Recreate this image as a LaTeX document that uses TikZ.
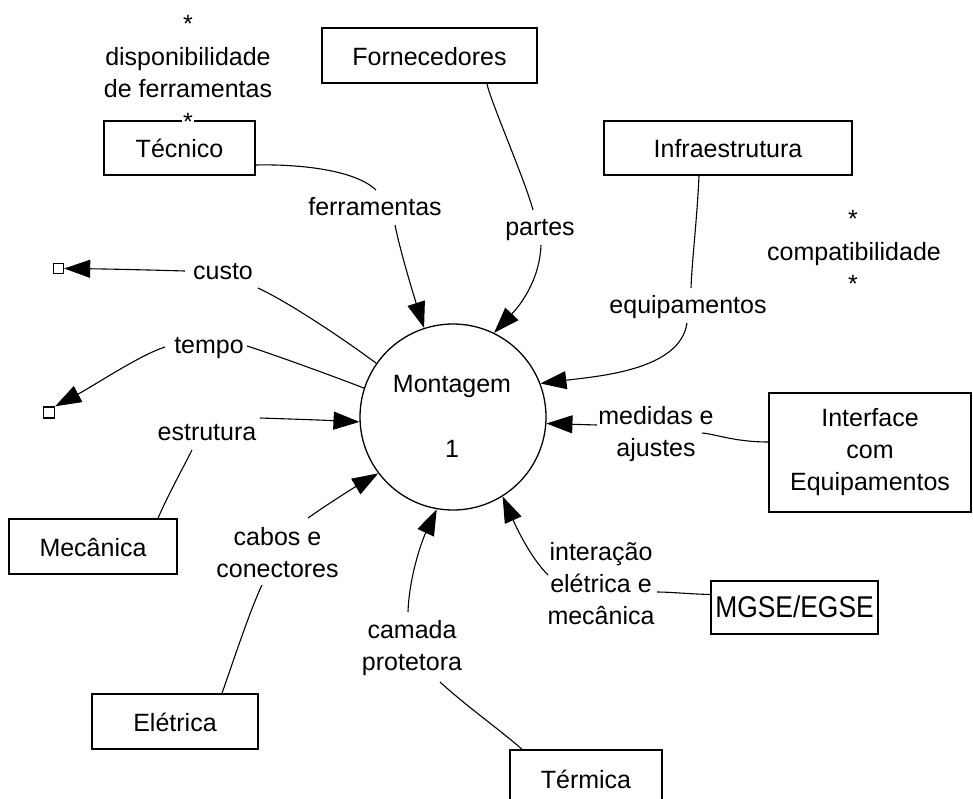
\documentclass[tikz,border=0pt]{standalone}
\usepackage{fontspec}
\setmainfont{Liberation Sans}
\usetikzlibrary{arrows.meta,calc}
\begin{document}
\begin{tikzpicture}[x=1pt,y=-1pt,
  txt/.style={font=\fontsize{25}{32}\selectfont, align=center, inner sep=0pt},
  boxbase/.style={draw, line width=1.6pt, font=\fontsize{25}{32}\selectfont, inner sep=0pt},
  box/.style={boxbase, text height=20pt, text depth=0pt},
  conn/.style={line width=1.1pt},
  arr/.style={conn, -{Triangle[length=26pt,width=18pt]}},
  star/.style={font=\fontsize{25}{32}\selectfont, inner sep=1pt, anchor=base, fill=white},
  sq/.style={draw, line width=1.4pt, minimum size=10pt, inner sep=0pt, fill=white}]
\path[fill=white, use as bounding box] (0,0) rectangle (973,799);

% process circle
\node[draw, circle, minimum size=186pt, line width=1.3pt, inner sep=0pt] (M) at (453,417) {};
\node[txt, anchor=north] (mont) at (452,369.6) {\strut Montagem};
\node[txt, anchor=north] (mnum) at (452,434.6) {\strut 1};

% boxes
\node[box, minimum width=151pt, minimum height=54pt] (tec) at (179.5,148) {Técnico};
\node[box, minimum width=215pt, minimum height=55pt] (forn) at (429.5,55.5) {Fornecedores};
\node[box, minimum width=248pt, minimum height=54pt] (infra) at (728,148) {Infraestrutura};
\node[boxbase, align=center, minimum width=202pt, minimum height=119pt] (iface) at (870,452.5) {\strut Interface\\\strut com\\\strut Equipamentos};
\node[box, minimum width=167pt, minimum height=53pt, font=\fontsize{30}{36}\selectfont] (mgse) at (794.5,607.5) {\scalebox{0.88}[1]{MGSE/EGSE}};
\node[box, minimum width=168pt, minimum height=55pt] (mec) at (93,546.5) {Mecânica};
\node[box, minimum width=166pt, minimum height=55pt] (elet) at (175,721.5) {Elétrica};
\node[box, minimum width=152pt, minimum height=60pt, text height=17pt] (term) at (586,780) {Térmica};

% stores / notes
\node[star] (s1) at (188,32.3) {*};
\node[txt, anchor=north] (ldisp) at (188,42.6) {\strut disponibilidade\\\strut de ferramentas};
\node[star] (s2) at (188,130.3) {*};
\node[star] (s3) at (853,227.3) {*};
\node[txt, anchor=north] (lcomp) at (854,237.6) {\strut compatibilidade};
\node[star] (s4) at (853,292.3) {*};

% flow labels
\node[txt, anchor=north] (lferr) at (375,192.6) {\strut ferramentas};
\node[txt, anchor=north] (lpart) at (540,212.6) {\strut partes};
\node[txt, anchor=north] (lequi) at (688,290.6) {\strut equipamentos};
\node[txt, anchor=north] (lmed) at (656,401.6) {\strut medidas e\\\strut ajustes};
\node[txt, anchor=north] (lint) at (601,537.6) {\strut interação\\\strut elétrica e\\\strut mecânica};
\node[txt, anchor=north] (lcam) at (412,615.6) {\strut camada\\\strut protetora};
\node[txt, anchor=north] (lcab) at (277.5,522.6) {\strut cabos e\\\strut conectores};
\node[txt, anchor=north] (lest) at (207,417.6) {\strut estrutura};
\node[txt, anchor=north] (lcus) at (223,256.6) {\strut custo};
\node[txt, anchor=north] (ltem) at (209,330.6) {\strut tempo};

% terminator squares
\node[sq] (sq1) at (58.5,268.5) {};
\node[sq, minimum size=11pt] (sq2) at (49,412.5) {};

% label attachment points
\coordinate (ferrT) at (376,190);
\coordinate (ferrB) at (395,225);
\coordinate (partT) at (533,210);
\coordinate (partB) at (541,245);
\coordinate (equiT) at (691,288);
\coordinate (equiB) at (687,323);
\coordinate (medR) at (702,433);
\coordinate (medL) at (597,425);
\coordinate (intR) at (657,592);
\coordinate (intB) at (548,575);
\coordinate (camB) at (440,682);
\coordinate (camT) at (408,612);
\coordinate (cabB) at (262,585);
\coordinate (cabT) at (308,518);
\coordinate (estB) at (192,450);
\coordinate (estR) at (260,418);
\coordinate (cusR) at (258,288);
\coordinate (cusL) at (185,271);
\coordinate (temR) at (247,346);
\coordinate (temL) at (165,347);

% connectors
\draw[conn] ($(tec.east)+(0,17)$) .. controls (300,164) and (355,170) .. (ferrT);
\draw[arr] (ferrB) .. controls (400,250) and (412,290) .. (M.108);
\draw[conn] ($(forn.south)+(57.5,0)$) .. controls (490,100) and (525,180) .. (partT);
\draw[arr] (partB) .. controls (540,275) and (525,300) .. (M.64);
\draw[conn] ($(infra.south)+(-29,0)$) .. controls (697,220) and (692,260) .. (equiT);
\draw[arr] (equiB) .. controls (680,370) and (600,376) .. (M.21);
\draw[conn] ($(iface.west)+(0,-10.5)$) .. controls (735,442) and (715,434) .. (medR);
\draw[arr] (medL) -- (M.-4);
\draw[conn] ($(mgse.west)+(0,-13)$) .. controls (690,594) and (670,592) .. (intR);
\draw[arr] (intB) .. controls (535,562) and (522,540) .. (M.-58);
\draw[conn] ($(term.north)+(-64,0)$) .. controls (500,730) and (465,705) .. (camB);
\draw[arr] (camT) .. controls (409,580) and (420,545) .. (M.-100);
\draw[conn] ($(elet.north)+(47,0)$) .. controls (232,665) and (250,610) .. (cabB);
\draw[arr] (cabT) .. controls (325,506) and (350,490) .. (M.-143);
\draw[conn] ($(mec.north)+(65,0)$) .. controls (168,495) and (183,468) .. (estB);
\draw[arr] (estR) .. controls (290,419) and (320,420) .. (M.183);
\draw[conn] (M.145) .. controls (345,340) and (290,303) .. (cusR);
\draw[arr] (cusL) .. controls (150,270) and (110,269) .. (sq1.east);
\draw[conn] (M.162) .. controls (330,375) and (275,355) .. (temR);
\draw[arr] (temL) .. controls (140,355) and (95,385) .. (sq2.north east);
\end{tikzpicture}
\end{document}
